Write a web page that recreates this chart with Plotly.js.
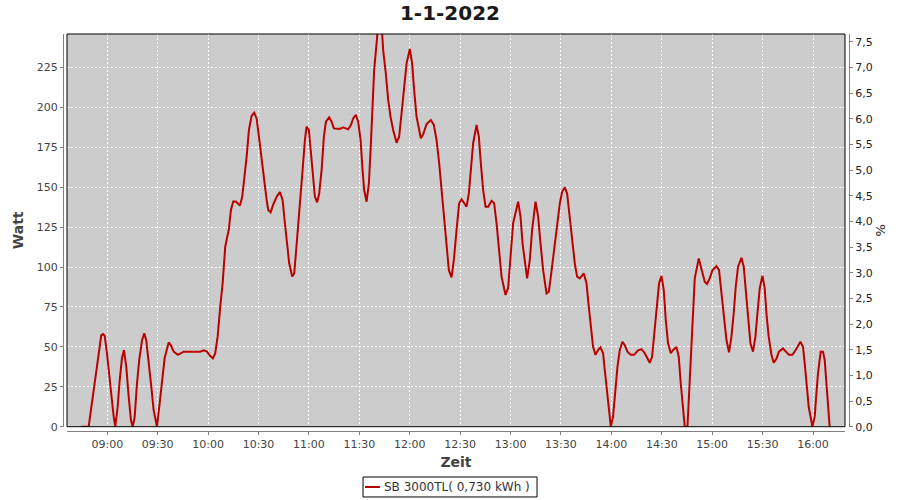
<!DOCTYPE html>
<html>
<head>
<meta charset="utf-8">
<script src="https://cdn.plot.ly/plotly-3.0.1.min.js"></script>
<style>html,body{margin:0;padding:0;background:#fff;}#chart{width:900px;height:500px;}</style>
</head>
<body>
<div id="chart"></div>
<script>
const chartDate = "2022-01-01";
const chartTitle = "1-1-2022";
const seriesName = "SB 3000TL( 0,730 kWh )";

const times = [
"08:44:21","08:48:56","08:50:18","08:51:55","08:53:28","08:54:53","08:56:26","08:57:27","08:58:27","08:59:49",
"09:01:11","09:02:23","09:03:48","09:04:45","09:06:11","09:07:23","09:08:45","09:09:56","09:11:18","09:12:44",
"09:14:06","09:15:07","09:16:18","09:17:40","09:19:02","09:20:39","09:22:01","09:23:12","09:24:38","09:26:00",
"09:27:36","09:29:34","09:31:10","09:32:32","09:34:09","09:36:32","09:37:54","09:39:30","09:42:04","09:45:27",
"09:49:23","09:55:20","09:57:21","09:59:19","10:01:17","10:02:53","10:04:15","10:05:41","10:07:13","10:08:39",
"10:10:12","10:12:24","10:13:35","10:14:57","10:16:34","10:18:57","10:20:19","10:21:30","10:22:56","10:24:18",
"10:25:54","10:27:27","10:28:53","10:30:15","10:31:51","10:33:13","10:34:50","10:35:47","10:37:13","10:38:45",
"10:40:47","10:42:44","10:44:20","10:45:43","10:47:05","10:48:16","10:50:04","10:51:15","10:52:16","10:53:38",
"10:55:03","10:56:14","10:57:37","10:58:37","10:59:59","11:01:11","11:02:33","11:03:34","11:04:56","11:06:07",
"11:07:33","11:08:55","11:10:07","11:12:04","11:13:30","11:14:52","11:18:26","11:20:24","11:23:22","11:24:59",
"11:26:21","11:27:57","11:29:19","11:30:45","11:31:56","11:32:53","11:34:19","11:35:41","11:36:42","11:37:39",
"11:38:50","11:40:16","11:41:13","11:43:14","11:44:11","11:45:47","11:47:10","11:48:35","11:50:08","11:52:10",
"11:53:42","11:55:08","11:56:30","11:58:07","12:00:04","12:01:26","12:02:38","12:04:04","12:06:37","12:07:59",
"12:10:01","12:12:34","12:14:21","12:15:58","12:17:31","12:18:56","12:20:18","12:21:55","12:23:17","12:24:53",
"12:26:15","12:27:52","12:29:24","12:30:50","12:32:12","12:33:49","12:35:11","12:36:22","12:37:44","12:39:46",
"12:41:08","12:42:19","12:43:41","12:45:07","12:46:40","12:48:41","12:50:14","12:51:40","12:53:02","12:54:38",
"12:57:01","12:58:34","12:59:59","13:01:32","13:04:31","13:05:56","13:07:08","13:08:30","13:09:52","13:11:28",
"13:12:50","13:14:52","13:16:25","13:17:50","13:19:23","13:21:25","13:22:47","13:23:58","13:25:20","13:26:46",
"13:27:57","13:29:19","13:30:41","13:32:17","13:33:40","13:35:16","13:36:38","13:38:14","13:39:37","13:41:13",
"13:43:35","13:45:12","13:46:34","13:47:45","13:49:07","13:50:33","13:52:06","13:53:31","13:55:04","13:56:05",
"13:57:27","13:58:28","13:59:39","14:01:01","14:02:26","14:03:38","14:05:00","14:06:37","14:07:59","14:09:35",
"14:11:33","14:13:31","14:15:53","14:17:55","14:19:53","14:22:51","14:24:13","14:25:49","14:27:11","14:28:23",
"14:29:49","14:31:11","14:32:22","14:33:44","14:35:20","14:36:43","14:38:44","14:40:06","14:41:17","14:42:40",
"14:43:40","14:45:17","14:46:14","14:47:14","14:48:37","14:49:37","14:52:00","14:53:37","14:55:34","14:56:56",
"14:58:33","15:00:09","15:02:32","15:04:05","15:05:31","15:06:52","15:08:29","15:10:02","15:11:27","15:12:49",
"15:14:01","15:15:23","15:17:24","15:18:46","15:19:58","15:21:20","15:22:46","15:24:18","15:25:44","15:26:55",
"15:28:17","15:29:53","15:31:16","15:32:16","15:33:38","15:35:15","15:36:37","15:38:13","15:39:46","15:42:08",
"15:44:10","15:45:43","15:47:44","15:49:42","15:52:30","15:54:03","15:55:04","15:56:04","15:57:26","15:59:38",
"16:01:01","16:02:01","16:02:58","16:04:35","16:05:56","16:06:57","16:07:58","16:08:55","16:09:55"
];

const watt = [
0,0,10.5,23,35.5,46,57.4,58,57,46,
31,18.8,6.3,0,12.5,29,43,48,37.6,18.8,
4,0,6,27,41.8,54,58.5,54,41.8,27,
10.4,0,14.6,29,43,52.8,51,47,45,47,
47,47,47.8,47,44.2,42.8,46,56.4,75,89.8,
112.7,124,135.7,141,141,138.4,144,154.5,169,185.8,
194.6,196.6,193,181.6,167,154.5,142,135.7,134.2,139,
144,147,142,127.4,114.8,102.3,94,96,108.6,125.2,
142,160.7,179.5,187.9,185.8,173.3,156.5,144,140.5,146,
160.7,181.6,191,193.7,191,186.8,186.5,187.4,186.2,188.9,
193,195.2,191,179.5,160.7,148.2,140.9,152.4,173.3,198.3,
223.4,240,252,252,236,221,204.6,194,185.8,177.8,
181.6,196.2,212.9,227.5,236.5,227.5,210.8,194,180.6,183,
189.5,192,189,179.5,165,148.2,131.5,114.8,98,93.5,
104.4,123.2,139.9,142.4,139.9,137.8,146.1,158.7,177.5,188.9,
181.6,165,148.2,137.8,137.8,141.5,140,127.4,112.7,94,
82.5,87,106.4,127.4,140.9,131.5,114.8,102.3,92.9,104.4,
123.2,140.9,131.5,114.8,98,83.5,84.6,94,106.4,119,
129.4,139.9,147.1,149.9,146,131.5,119,102.3,94,92.9,
96,89.8,75,62.6,50,45,48,49.7,46,35.5,
23,10.5,0,6.3,25,37.6,48,53.2,51,47,
45,45,47.8,48.6,46,40,43.8,60.5,77.3,89.8,
94.5,85.6,66.8,52.2,46,48,50,43.8,27.2,10.5,
0,0,18.8,43.8,73,92.9,105.4,99.4,90.8,89.4,
93,98,100.6,98,83.5,68.9,54.3,46.6,56.4,71,
87.7,100.2,105.8,100.2,86.6,66.8,52.2,47,56.4,71,
86.6,94.5,86.6,71,56.4,45,40,42.6,47,49,
47,45,45,48,53.2,50,39.7,27.2,12.5,0,
6.3,20.9,33.4,47,47,41.8,27.2,12.5,0
];

const wattTicks = [0, 25, 50, 75, 100, 125, 150, 175, 200, 225];
const percentTicks = [0, 0.5, 1, 1.5, 2, 2.5, 3, 3.5, 4, 4.5, 5, 5.5, 6, 6.5, 7, 7.5];
const wattMax = 245.9;
const percentMax = 7.651;
const xStart = "08:36:02";
const xEnd = "16:19:02";

const x = times.map(t => chartDate + " " + t);
const FONT = "DejaVu Sans, Arial, sans-serif";
const AX = "#808080";
const TXT = "#444444";
const LINE_COLOR = "#bb0000";

const traces = [
  {
    x: x, y: watt, type: "scatter", mode: "lines",
    name: seriesName,
    line: {color: LINE_COLOR, width: 2},
    hoverinfo: "x+y"
  },
  {
    x: [x[0]], y: [null], type: "scatter", mode: "lines",
    yaxis: "y2", showlegend: false, hoverinfo: "skip"
  }
];

// legend box (drawn in paper coordinates below the plot)
const LG = {x0: 0.3817, x1: 0.6031, y0: -0.1662, y1: -0.1159, ym: -0.1411, lx0: 0.3842, lx1: 0.4033, tx: 0.4059};

const layout = {
  width: 900, height: 500,
  margin: {l: 63, r: 51, t: 34, b: 69, pad: 0, autoexpand: false},
  paper_bgcolor: "#ffffff",
  plot_bgcolor: "#cccccc",
  separators: ",.",
  showlegend: false,
  font: {family: FONT, size: 11, color: TXT},
  title: {
    text: "<b>" + chartTitle + "</b>",
    x: 0.5, xref: "container", xanchor: "center",
    y: 0.974, yref: "container", yanchor: "middle",
    font: {family: FONT, size: 20, color: "#1a1a1a"}
  },
  xaxis: {
    type: "date",
    range: [chartDate + " " + xStart, chartDate + " " + xEnd],
    domain: [0.0051, 0.9949],
    anchor: "free", position: 0,
    automargin: false,
    tickformat: "%H:%M",
    tick0: chartDate + " 09:00:00",
    dtick: 1800000,
    showgrid: true, gridcolor: "#ffffff", gridwidth: 1, griddash: "2px,2px",
    showline: true, linecolor: AX, linewidth: 1,
    ticks: "outside", ticklen: 3, tickcolor: AX, tickwidth: 1,
    tickfont: {family: FONT, size: 11, color: TXT},
    zeroline: false,
    title: {text: "<b>Zeit</b>", font: {family: FONT, size: 14, color: TXT}, standoff: 6}
  },
  yaxis: {
    range: [0, wattMax],
    domain: [0.0108, 1],
    anchor: "free", position: 0,
    automargin: false,
    tickmode: "array", tickvals: wattTicks, ticktext: wattTicks.map(String),
    showgrid: true, gridcolor: "#ffffff", gridwidth: 1, griddash: "2px,2px",
    showline: true, linecolor: AX, linewidth: 1,
    ticks: "outside", ticklen: 3, tickcolor: AX, tickwidth: 1,
    tickfont: {family: FONT, size: 11, color: TXT},
    zeroline: false,
    title: {text: "<b>Watt</b>", font: {family: FONT, size: 14, color: TXT}, standoff: 8}
  },
  yaxis2: {
    overlaying: "y", side: "right",
    anchor: "free", position: 1,
    automargin: false,
    range: [0, percentMax],
    tickmode: "array", tickvals: percentTicks, ticktext: percentTicks.map(v => v.toFixed(1).replace(".", ",")),
    showgrid: false,
    showline: true, linecolor: AX, linewidth: 1,
    ticks: "outside", ticklen: 3, tickcolor: AX, tickwidth: 1,
    tickfont: {family: FONT, size: 11, color: "#222"},
    zeroline: false,
    title: {text: "%", font: {family: FONT, size: 13, color: "#222"}, standoff: 3}
  },
  shapes: [
    {
      type: "rect", xref: "x domain", yref: "y domain",
      x0: 0, x1: 1, y0: 0, y1: 1,
      line: {color: "#000000", width: 1}, fillcolor: "rgba(0,0,0,0)", layer: "above"
    },
    {
      type: "rect", xref: "paper", yref: "paper",
      x0: LG.x0, x1: LG.x1, y0: LG.y0, y1: LG.y1,
      line: {color: "#000000", width: 1}, fillcolor: "#ffffff", layer: "above"
    },
    {
      type: "line", xref: "paper", yref: "paper",
      x0: LG.lx0, x1: LG.lx1, y0: LG.ym, y1: LG.ym,
      line: {color: LINE_COLOR, width: 2}, layer: "above"
    }
  ],
  annotations: [{
    xref: "paper", yref: "paper", x: LG.tx, y: LG.ym,
    xanchor: "left", yanchor: "middle", showarrow: false,
    text: seriesName,
    font: {family: FONT, size: 12, color: "#333"}
  }]
};

Plotly.newPlot("chart", traces, layout, {displayModeBar: false, staticPlot: true});
</script>
</body>
</html>
